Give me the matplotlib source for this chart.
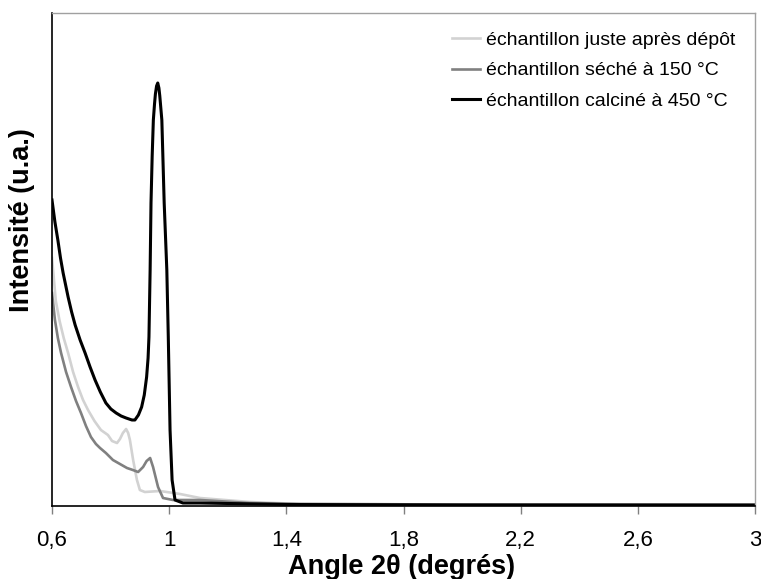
import matplotlib
matplotlib.use("Agg")
import matplotlib.pyplot as plt

plt.rcParams['font.family'] = ['Liberation Sans', 'DejaVu Sans']

# Series: angle 2theta (degrees) and intensity (arbitrary units)
x_depot = [0.600, 0.613, 0.626, 0.640, 0.655, 0.672, 0.689, 0.706, 0.723, 0.745,
           0.767, 0.791, 0.805, 0.822, 0.832, 0.842, 0.853, 0.860, 0.866, 0.877,
           0.890, 0.900, 0.917, 0.969, 1.037, 1.105, 1.276, 1.447, 2.0, 3.0]
y_depot = [248, 205, 185, 168, 153, 134, 119, 106, 96, 85,
           76, 71, 65, 63, 67, 73, 77, 73, 66, 46,
           26, 16, 14, 15, 12, 8, 4, 2, 1.5, 1]

x_seche = [0.600, 0.610, 0.620, 0.631, 0.648, 0.665, 0.682, 0.699, 0.716, 0.733,
           0.750, 0.764, 0.784, 0.808, 0.832, 0.856, 0.876, 0.894, 0.911, 0.923,
           0.935, 0.945, 0.962, 0.979, 1.013, 1.105, 1.276, 1.447, 2.0, 3.0]
y_seche = [213, 186, 168, 153, 134, 119, 105, 93, 80, 69,
           62, 58, 53, 46, 42, 38, 36, 34, 39, 45,
           48, 39, 19, 8, 6, 6, 3, 2, 1.5, 1]

x_calcine = [0.600, 0.610, 0.620, 0.629, 0.638, 0.655, 0.667, 0.679, 0.696, 0.713,
             0.730, 0.747, 0.765, 0.784, 0.801, 0.819, 0.836, 0.853, 0.873, 0.883,
             0.895, 0.906, 0.915, 0.923, 0.928, 0.931, 0.935, 0.938, 0.942, 0.946,
             0.950, 0.953, 0.957, 0.961, 0.965, 0.968, 0.975, 0.983, 0.992, 0.997,
             1.003, 1.010, 1.020, 1.047, 1.105, 1.4, 2.0, 3.0]
y_calcine = [306, 284, 266, 248, 233, 209, 194, 181, 166, 153,
             139, 126, 114, 103, 97, 93, 90, 88, 86, 86,
             91, 99, 111, 129, 148, 169, 236, 303, 350, 386,
             402, 412, 420, 423, 418, 410, 386, 303, 236, 169,
             76, 26, 6, 3, 3, 1.5, 1, 1]

labels = ["échantillon juste après dépôt", "échantillon séché à 150 °C",
          "échantillon calciné à 450 °C"]
xticks = [0.6, 1.0, 1.4, 1.8, 2.2, 2.6, 3.0]
xticklabels = ["0,6", "1", "1,4", "1,8", "2,2", "2,6", "3"]

W, H = 761, 579
fig = plt.figure(figsize=(W / 100, H / 100), dpi=100)
ax = fig.add_axes([52 / W, (H - 506) / H, (755 - 52) / W, (506 - 13) / H])

ax.plot(x_depot, y_depot, color="#d2d2d2", lw=1.9, label=labels[0])
ax.plot(x_seche, y_seche, color="#808080", lw=1.9, label=labels[1])
ax.plot(x_calcine, y_calcine, color="black", lw=2.2, label=labels[2])

ax.set_xlim(0.6, 3.0)
ax.set_ylim(0, 493)
ax.set_xticks(xticks)
ax.set_xticklabels(xticklabels)
ax.set_yticks([])
ax.tick_params(axis="x", direction="out", length=6, width=1, color="#808080",
               labelsize=16, pad=11)

for s in ["left", "bottom"]:
    ax.spines[s].set_color("black")
    ax.spines[s].set_linewidth(1.2)
for s in ["top", "right"]:
    ax.spines[s].set_color("#a0a0a0")
    ax.spines[s].set_linewidth(1.0)

leg = ax.legend(loc="upper left", bbox_to_anchor=(452 / W, 1 - 31 / H),
                bbox_transform=fig.transFigure, frameon=False, fontsize=14,
                handlelength=1.45, handletextpad=0.3, labelspacing=0.68,
                borderpad=0, borderaxespad=0)

fig.text(402 / W, 1 - 567 / H, "Angle 2θ (degrés)", ha="center", va="center",
         fontsize=19.5, fontweight="bold")
fig.text(22 / W, 1 - 220 / H, "Intensité (u.a.)", ha="center", va="center",
         rotation=90, fontsize=19.5, fontweight="bold")

fig.savefig("out.png", dpi=100)
